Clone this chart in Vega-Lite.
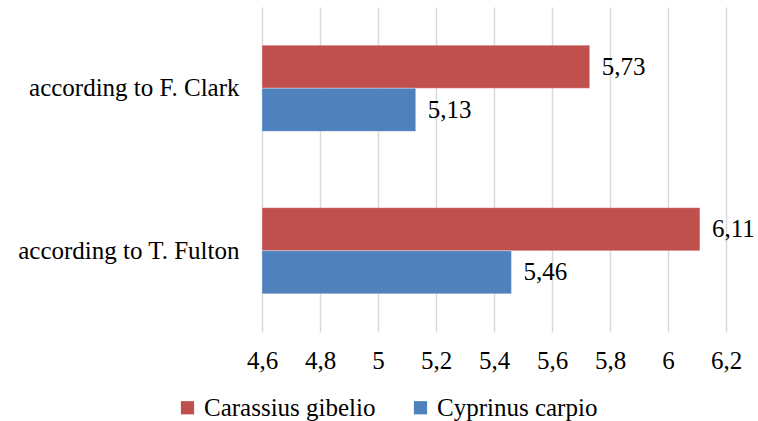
{
  "$schema": "https://vega.github.io/schema/vega-lite/v6.json",
  "width": 464,
  "height": 325,
  "autosize": {"type": "none"},
  "padding": {"left": 262, "top": 7, "right": 32, "bottom": 89},
  "background": "white",
  "config": {
    "view": {"stroke": null},
    "font": "Liberation Serif"
  },
  "data": {
    "values": [
      {"method": "according to F. Clark", "species": "Carassius gibelio", "value": 5.73},
      {"method": "according to F. Clark", "species": "Cyprinus carpio", "value": 5.13},
      {"method": "according to T. Fulton", "species": "Carassius gibelio", "value": 6.11},
      {"method": "according to T. Fulton", "species": "Cyprinus carpio", "value": 5.46}
    ]
  },
  "encoding": {
    "y": {
      "field": "method",
      "type": "nominal",
      "sort": ["according to F. Clark", "according to T. Fulton"],
      "scale": {"paddingInner": 0.47, "paddingOuter": 0.235},
      "axis": {"title": null, "domain": false, "ticks": false, "labelFont": "Liberation Serif", "labelFontSize": 25, "labelLimit": 0, "labelPadding": 23, "labelColor": "#000000"}
    },
    "yOffset": {
      "field": "species",
      "type": "nominal",
      "sort": ["Carassius gibelio", "Cyprinus carpio"],
      "scale": {"paddingInner": 0, "paddingOuter": 0}
    },
    "x": {
      "field": "value",
      "type": "quantitative",
      "scale": {"domain": [4.6, 6.2], "nice": false, "zero": false},
      "axis": {
        "title": null,
        "domain": false,
        "ticks": false,
        "values": [4.6, 4.8, 5, 5.2, 5.4, 5.6, 5.8, 6, 6.2],
        "labelExpr": "replace(format(datum.value, '.1~f'), '.', ',')",
        "labelFont": "Liberation Serif",
        "labelFontSize": 25,
        "labelFlush": false,
        "labelOverlap": false,
        "labelPadding": 16,
        "gridColor": "#D9D9D9",
        "gridWidth": 1.5,
        "labelColor": "#000000"
      }
    }
  },
  "layer": [
    {
      "mark": {"type": "bar", "stroke": "white", "strokeWidth": 0.5, "strokeOpacity": 0.6},
      "encoding": {
        "x2": {"datum": 4.6},
        "color": {
          "field": "species",
          "type": "nominal",
          "sort": ["Carassius gibelio", "Cyprinus carpio"],
          "scale": {"domain": ["Carassius gibelio", "Cyprinus carpio"], "range": ["#C0504D", "#4F81BD"]},
          "legend": {
            "title": null,
            "orient": "none",
            "direction": "horizontal",
            "legendX": -87,
            "legendY": 388,
            "symbolType": "square",
            "symbolSize": 175,
            "symbolStrokeWidth": 0,
            "labelFont": "Liberation Serif",
            "labelFontSize": 25,
            "labelLimit": 0,
            "labelColor": "#000000",
            "columnPadding": 32,
            "labelOffset": 4
          }
        }
      }
    },
    {
      "mark": {"type": "text", "align": "left", "baseline": "middle", "dx": 12, "font": "Liberation Serif", "fontSize": 25, "color": "#000000",
        "text": {"expr": "replace(format(datum.value, '.2f'), '.', ',')"}},
      "encoding": {}
    }
  ]
}
